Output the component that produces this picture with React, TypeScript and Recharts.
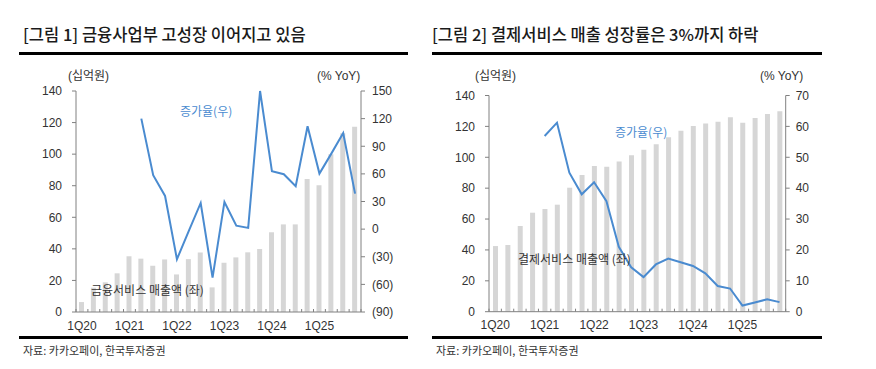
import React from 'react';
import { ComposedChart, Bar, Line, XAxis, YAxis } from 'recharts';

const quarters = [
  '1Q20', '2Q20', '3Q20', '4Q20', '1Q21', '2Q21', '3Q21', '4Q21',
  '1Q22', '2Q22', '3Q22', '4Q22', '1Q23', '2Q23', '3Q23', '4Q23',
  '1Q24', '2Q24', '3Q24', '4Q24', '1Q25', '2Q25', '3Q25', '4Q25',
];

// 금융서비스 매출액 (십억원) / 증가율 (% YoY)
const finRevenue = [6.3, 15.4, 18.8, 24.5, 35.3, 33.8, 29.3, 33.3, 23.8, 33.5, 37.7, 15.6, 31.2, 34.6, 37.8, 39.9, 50.5, 55.5, 55.5, 84.2, 80.3, 100, 113.2, 117.4];
const finGrowth = [null, null, null, null, null, 120, 58.5, 36, -32.7, -2, 28.4, -52.6, 29.5, 3.8, 1.3, 150, 62.8, 59.6, 46.5, 111.7, 60.3, 82, 104.4, 38.6];

// 결제서비스 매출액 (십억원) / 증가율 (% YoY)
const payRevenue = [42.5, 43.2, 55.5, 64.1, 66.5, 69.3, 80.3, 88.5, 94.4, 93.9, 97.2, 101.3, 104.9, 108.4, 113, 117.2, 120.3, 121.8, 123, 125.9, 122.4, 125.5, 128, 129.8];
const payGrowth = [null, null, null, null, 56.9, 61.2, 45, 38, 41.9, 35.8, 21, 14.4, 11.2, 15.3, 17.2, 16, 14.8, 12.4, 8.3, 7.5, 2, 3, 4, 3.1];

const leftTicks = [0, 20, 40, 60, 80, 100, 120, 140];
const finRightTicks = [-90, -60, -30, 0, 30, 60, 90, 120, 150];
const payRightTicks = [0, 10, 20, 30, 40, 50, 60, 70];

const finData = quarters.map((q, i) => ({ q, rev: finRevenue[i], growth: finGrowth[i] }));
const payData = quarters.map((q, i) => ({ q, rev: payRevenue[i], growth: payGrowth[i] }));

const BAR = '#d6d6d6';
const BLUE = '#4a8bd0';
const AXIS = '#808080';
const TXT = '#333333';
const NUM_FONT = '"Liberation Sans", "Noto Sans CJK KR", Arial, sans-serif';
const KR_FONT = '"Noto Sans CJK KR", "Liberation Sans", sans-serif';

const paren = (v: number) => (v < 0 ? `(${Math.abs(v)})` : `${v}`);

const makeTick = (band: number, axisY: number) => (props: any) => {
  const { x, index, payload } = props;
  const bx = x - band / 2;
  return (
    <g>
      <line x1={bx} x2={bx} y1={axisY} y2={axisY - 3} stroke={AXIS} />
      {index === quarters.length - 1 && (
        <line x1={x + band / 2} x2={x + band / 2} y1={axisY} y2={axisY - 3} stroke={AXIS} />
      )}
      {index % 4 === 0 && (
        <text x={x} y={axisY + 17.5} textAnchor="middle" fontSize={12} fill={TXT} fontFamily={NUM_FONT}>
          {payload.value}
        </text>
      )}
    </g>
  );
};

const abs = (left: number, top: number, extra: React.CSSProperties = {}): React.CSSProperties => ({
  position: 'absolute',
  left,
  top,
  whiteSpace: 'nowrap',
  lineHeight: 1,
  ...extra,
});

const App = () => {
  const tickStyle = { fontSize: 12, fill: TXT, fontFamily: NUM_FONT };
  const titleStyle = { fontSize: 16.5, fontWeight: 500, fontFamily: KR_FONT, color: '#1a1a1a' };
  return (
    <div style={{ position: 'absolute', left: 0, top: 0, width: 876, height: 369, background: '#fff', overflow: 'hidden' }}>
      {/* titles */}
      <div style={abs(23, 26, titleStyle)}>[그림 1] 금융사업부 고성장 이어지고 있음</div>
      <div style={abs(432, 26, titleStyle)}>[그림 2] 결제서비스 매출 성장률은 3%까지 하락</div>
      <div style={abs(19, 52, { width: 389, height: 2.5, background: '#000' })} />
      <div style={abs(432, 52, { width: 390, height: 2.5, background: '#000' })} />
      <div style={abs(19, 336, { width: 389, height: 2.5, background: '#000' })} />
      <div style={abs(432, 336, { width: 390, height: 2.5, background: '#000' })} />
      <div style={abs(23, 345, { fontSize: 11, fontFamily: KR_FONT, color: TXT })}>자료: 카카오페이, 한국투자증권</div>
      <div style={abs(436, 345, { fontSize: 11, fontFamily: KR_FONT, color: TXT })}>자료: 카카오페이, 한국투자증권</div>

      {/* chart 1 */}
      <div style={abs(0, 0)}>
        <ComposedChart width={420} height={340} data={finData} margin={{ top: 91, right: 19, left: 16, bottom: 8 }}>
          <XAxis dataKey="q" interval={0} height={20} tickLine={false} stroke={AXIS} tick={makeTick(285 / 24, 312)} />
          <YAxis yAxisId="left" width={60} domain={[0, 140]} ticks={leftTicks} stroke={AXIS} tickSize={4} tickMargin={10} tick={tickStyle} />
          <YAxis yAxisId="right" orientation="right" width={40} domain={[-90, 150]} ticks={finRightTicks} stroke={AXIS} tickSize={4} tickMargin={7} tick={tickStyle} tickFormatter={paren} />
          <Bar yAxisId="left" dataKey="rev" fill={BAR} barSize={5} isAnimationActive={false} />
          <Line yAxisId="right" dataKey="growth" stroke={BLUE} strokeWidth={2} dot={false} connectNulls={false} isAnimationActive={false} />
        </ComposedChart>
      </div>
      <div style={abs(68, 70, { fontSize: 12, fontFamily: NUM_FONT, color: TXT })}>(십억원)</div>
      <div style={abs(317, 70, { fontSize: 12, fontFamily: NUM_FONT, color: TXT })}>(% YoY)</div>
      <div style={abs(180, 105, { fontSize: 12, fontFamily: KR_FONT, color: BLUE })}>증가율(우)</div>
      <div style={abs(91, 284, { fontSize: 12, fontFamily: KR_FONT, color: TXT })}>금융서비스 매출액 (좌)</div>

      {/* chart 2 */}
      <div style={abs(420, 0)}>
        <ComposedChart width={420} height={340} data={payData} margin={{ top: 95.5, right: 14.3, left: 9, bottom: 8.3 }}>
          <XAxis dataKey="q" interval={0} height={20} tickLine={false} stroke={AXIS} tick={makeTick(296.7 / 24, 311.7)} />
          <YAxis yAxisId="left" width={60} domain={[0, 140]} ticks={leftTicks} stroke={AXIS} tickSize={4} tickMargin={10} tick={tickStyle} />
          <YAxis yAxisId="right" orientation="right" width={40} domain={[0, 70]} ticks={payRightTicks} stroke={AXIS} tickSize={4} tickMargin={6} tick={tickStyle} />
          <Bar yAxisId="left" dataKey="rev" fill={BAR} barSize={5} isAnimationActive={false} />
          <Line yAxisId="right" dataKey="growth" stroke={BLUE} strokeWidth={2} dot={false} connectNulls={false} isAnimationActive={false} />
        </ComposedChart>
      </div>
      <div style={abs(475, 70, { fontSize: 12, fontFamily: NUM_FONT, color: TXT })}>(십억원)</div>
      <div style={abs(760, 70, { fontSize: 12, fontFamily: NUM_FONT, color: TXT })}>(% YoY)</div>
      <div style={abs(615, 126, { fontSize: 12, fontFamily: KR_FONT, color: BLUE })}>증가율(우)</div>
      <div style={abs(518, 253, { fontSize: 12, fontFamily: KR_FONT, color: TXT })}>결제서비스 매출액 (좌)</div>
    </div>
  );
};

export default App;
